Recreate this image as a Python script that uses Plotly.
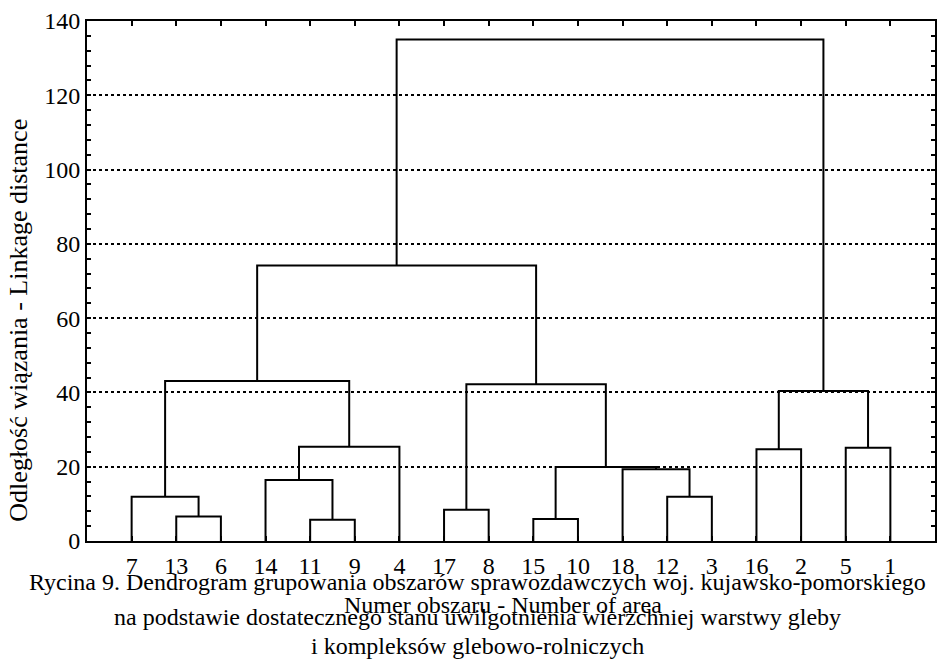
import plotly.graph_objects as go

# Leaf order along the x axis (area numbers)
leaf_labels = ["7", "13", "6", "14", "11", "9", "4", "17", "8",
               "15", "10", "18", "12", "3", "16", "2", "5", "1"]

# Agglomeration steps: cluster c<i> = merge_a[i] + merge_b[i] at merge_height[i]
merge_a = ["13", "11", "7", "14", "c3", "c2", "17", "15", "12", "18",
           "c7", "c6", "c5", "16", "5", "c13", "c12"]
merge_b = ["6", "9", "c0", "c1", "4", "c4", "8", "10", "3", "c8",
           "c9", "c10", "c11", "2", "1", "c14", "c15"]
merge_height = [6.6, 5.7, 11.9, 16.4, 25.4, 43.1, 8.4, 5.9, 11.9, 19.3,
                19.9, 42.2, 74.2, 24.7, 25.1, 40.4, 135.0]

y_ticks = [0, 20, 40, 60, 80, 100, 120, 140]

# positions of nodes
pos = {lab: i + 1 for i, lab in enumerate(leaf_labels)}
hgt = {lab: 0.0 for lab in leaf_labels}
xs, ys = [], []
for i, (a, b, h) in enumerate(zip(merge_a, merge_b, merge_height)):
    xa, xb = pos[a], pos[b]
    xs += [xa, xa, xb, xb, None]
    ys += [hgt[a], h, h, hgt[b], None]
    pos[f"c{i}"] = (xa + xb) / 2
    hgt[f"c{i}"] = h

FONT = "'Liberation Serif', 'Times New Roman', 'DejaVu Serif', serif"

fig = go.Figure()
fig.add_trace(go.Scatter(x=xs, y=ys, mode="lines",
                         line=dict(color="black", width=2),
                         hoverinfo="skip", showlegend=False))

fig.update_layout(
    width=938, height=659,
    margin=dict(l=87, r=1, t=21, b=118),
    paper_bgcolor="white", plot_bgcolor="white",
    font=dict(family=FONT, size=24, color="black"),
    showlegend=False,
    xaxis=dict(range=[0, len(leaf_labels) + 1],
               tickvals=list(range(1, len(leaf_labels) + 1)),
               ticktext=leaf_labels,
               ticks="inside", ticklen=5, tickwidth=1.5, tickcolor="black",
               showline=True, linecolor="black", linewidth=2, mirror="ticks",
               showgrid=False, zeroline=False, ticklabelstandoff=2,
               tickfont=dict(family=FONT, size=24)),
    yaxis=dict(range=[0, 140], tickvals=y_ticks,
               ticks="inside", ticklen=4, tickwidth=1.5, tickcolor="black",
               showline=True, linecolor="black", linewidth=2, mirror="ticks",
               showgrid=True, gridcolor="black", gridwidth=1.5, griddash="dot",
               zeroline=False,
               minor=dict(dtick=4, ticks="inside", ticklen=4, tickwidth=1.5,
                          tickcolor="black", showgrid=False),
               tickfont=dict(family=FONT, size=24)),
)

H = 520.0
W = 850.0
def py(Y):
    return (541 - Y) / H
def px(X):
    return (X - 87) / W

fig.add_annotation(text="Odległość wiązania - Linkage distance",
                   xref="paper", yref="paper", x=px(18), y=py(524),
                   xanchor="center", yanchor="bottom", textangle=-90,
                   showarrow=False, font=dict(family=FONT, size=26))
fig.add_annotation(text="Numer obszaru - Number of area",
                   xref="paper", yref="paper", x=px(343), y=py(605),
                   xanchor="left", yanchor="middle",
                   showarrow=False, font=dict(family=FONT, size=24))
caption = ["Rycina 9. Dendrogram grupowania obszarów sprawozdawczych woj. kujawsko-pomorskiego",
           "na podstawie dostatecznego stanu uwilgotnienia wierzchniej warstwy gleby",
           "i kompleksów glebowo-rolniczych"]
for line, Y in zip(caption, [582, 617, 646]):
    fig.add_annotation(text=line, xref="paper", yref="paper",
                       x=px(478), y=py(Y),
                       xanchor="center", yanchor="middle",
                       showarrow=False, font=dict(family=FONT, size=24))

fig.write_html("out.html")
